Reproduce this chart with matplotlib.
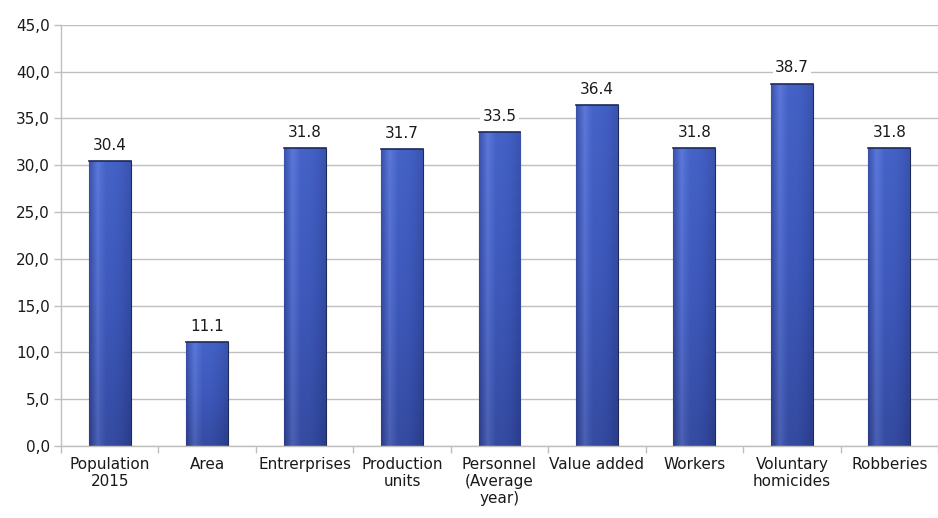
import matplotlib
matplotlib.use("Agg")
import matplotlib.pyplot as plt
import numpy as np
from matplotlib.colors import LinearSegmentedColormap
from matplotlib.ticker import FuncFormatter, MultipleLocator

# Data
categories = ['Population\n2015', 'Area', 'Entrerprises', 'Production\nunits',
              'Personnel\n(Average\nyear)', 'Value added', 'Workers',
              'Voluntary\nhomicides', 'Robberies']
values = [30.4, 11.1, 31.8, 31.7, 33.5, 36.4, 31.8, 38.7, 31.8]

plt.rcParams['font.family'] = ['DejaVu Sans']
fig = plt.figure(figsize=(9.38, 5.18), dpi=100, facecolor='white')
ax = fig.add_axes([0.065, 0.139, 0.935, 0.813])

x = np.arange(len(categories))
width = 0.43
grid_c = '#BFBFBF'
txt_c = '#1A1A1A'

# base bars
bars = ax.bar(x, values, width, color='#3A55B4', edgecolor='#1E2A5A', linewidth=0.8, zorder=2)

# shading: vertical gradient + lighter left edge, clipped to each bar
vcmap = LinearSegmentedColormap.from_list('v', ['#27367E', '#3750B0', '#4663C8'])
hcmap = LinearSegmentedColormap.from_list('h', ['#2E4090', '#6F8CEB', '#4662C6', '#4160C2', '#3A55B4', '#2E4494'])
for b in bars:
    x0, y0 = b.get_x(), b.get_y()
    w, h = b.get_width(), b.get_height()
    grad_h = np.linspace(0, 1, 64)[None, :]
    grad_v = np.linspace(0, 1, 64)[:, None]
    rgb_h = hcmap(np.repeat(grad_h, 64, axis=0))
    rgb_v = vcmap(np.repeat(grad_v, 64, axis=1))
    img = 0.5 * rgb_h + 0.5 * rgb_v
    im = ax.imshow(img, extent=[x0, x0 + w, y0, y0 + h], origin='lower',
                   aspect='auto', zorder=2.5, interpolation='bilinear')
    im.set_clip_path(b)
    # top bevel
    ax.plot([x0, x0 + w], [y0 + h, y0 + h], color='#1E2A5A', lw=1.2, zorder=3)

# value labels
for xi, v in zip(x, values):
    ax.text(xi, v + 0.9, f"{v:.1f}", ha='center', va='bottom', fontsize=11, color=txt_c,
            bbox=dict(facecolor='white', edgecolor='none', pad=1.5), zorder=4)

ax.set_xlim(-0.5, len(categories) - 0.5)
ax.set_ylim(0, 45)
ax.yaxis.set_major_locator(MultipleLocator(5))
ax.yaxis.set_major_formatter(FuncFormatter(lambda v, p: f"{v:.1f}".replace('.', ',')))
ax.grid(axis='y', color=grid_c, linewidth=1, zorder=0)
ax.set_axisbelow(True)

ax.set_xticks(x)
ax.set_xticklabels(categories, fontsize=11, color=txt_c, linespacing=1.15)
ax.set_xticks(np.arange(-0.5, len(categories), 1), minor=True)
ax.tick_params(axis='x', which='major', length=0, pad=8)
ax.tick_params(axis='x', which='minor', length=5, color=grid_c, width=1)
ax.tick_params(axis='y', length=5, color=grid_c, width=1, labelsize=11, labelcolor=txt_c, pad=3)

for s in ['top', 'right']:
    ax.spines[s].set_visible(False)
ax.spines['left'].set_color(grid_c)
ax.spines['bottom'].set_color(grid_c)
ax.spines['left'].set_linewidth(1)
ax.spines['bottom'].set_linewidth(1)

fig.savefig('out.png', dpi=100, facecolor='white')
